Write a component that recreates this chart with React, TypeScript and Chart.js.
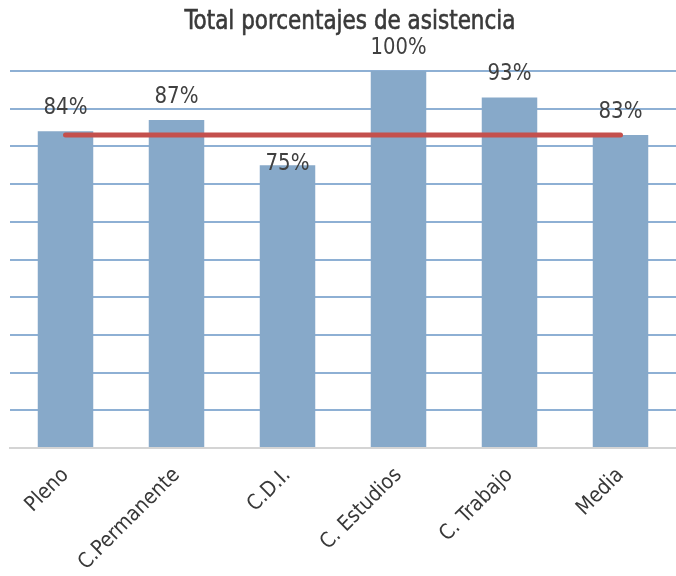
import React, { useEffect, useRef } from "react";
import { Chart, registerables } from "chart.js";

Chart.register(...registerables);

const titleText = "Total porcentajes de asistencia";
const categories = ["Pleno", "C.Permanente", "C.D.I.", "C. Estudios", "C. Trabajo", "Media"];
const attendance = [84, 87, 75, 100, 93, 83];
const mediaLine = [83, 83, 83, 83, 83, 83];
const valueLabels = ["84%", "87%", "75%", "100%", "93%", "83%"];

const FONT = "'DejaVu Sans Condensed', 'Liberation Sans Narrow', sans-serif";
const TEXT_COLOR = "#404040";

const overlayPlugin = {
  id: "overlayText",
  afterDatasetsDraw(chart: any) {
    const ctx = chart.ctx;
    const area = chart.chartArea;
    const meta = chart.getDatasetMeta(1);
    const gaps = [17, 17, -5, 17, 17, 17];
    ctx.save();
    ctx.fillStyle = TEXT_COLOR;
    ctx.textAlign = "center";
    ctx.textBaseline = "alphabetic";
    ctx.font = `23px ${FONT}`;
    meta.data.forEach((bar: any, i: number) => {
      const w = ctx.measureText(valueLabels[i]).width;
      const sx = Math.min(1, (valueLabels[i].length === 4 ? 56 : 44) / w);
      ctx.save();
      ctx.translate(bar.x, bar.y - gaps[i]);
      ctx.scale(sx, 1);
      ctx.fillText(valueLabels[i], 0, 0);
      ctx.restore();
    });
    // title
    const cx = (area.left + area.right) / 2 + 7;
    ctx.font = `26px ${FONT}`;
    ctx.fillStyle = "#3a3a3a";
    const tw = ctx.measureText(titleText).width;
    const tsx = 331 / tw;
    ctx.translate(cx, 29);
    ctx.scale(tsx, 1);
    ctx.lineWidth = 0.6;
    ctx.strokeStyle = "#3a3a3a";
    ctx.fillText(titleText, 0, 0);
    ctx.strokeText(titleText, 0, 0);
    ctx.restore();
  },
};

export default function App() {
  const ref = useRef<HTMLCanvasElement | null>(null);
  useEffect(() => {
    document.body.style.margin = "0";
    const canvas = ref.current;
    if (!canvas) return;
    const chart = new Chart(canvas, {
      type: "bar",
      data: {
        labels: categories,
        datasets: [
          {
            type: "line",
            label: "Media",
            data: mediaLine,
            borderColor: "#c4504d",
            borderWidth: 5,
            borderCapStyle: "round",
            pointRadius: 0,
            fill: false,
            order: 0,
          } as any,
          {
            type: "bar",
            label: "Asistencia",
            data: attendance,
            backgroundColor: "#87a9c9",
            borderWidth: 0,
            barPercentage: 0.5,
            categoryPercentage: 1,
            order: 1,
          },
        ],
      },
      options: {
        responsive: false,
        animation: false,
        layout: { padding: { top: 71, left: 10, right: 0, bottom: 0 } },
        plugins: {
          legend: { display: false },
          title: { display: false },
          tooltip: { enabled: false },
        },
        scales: {
          x: {
            grid: { display: false },
            border: { display: true, color: "#d4d4d4", width: 2 },
            ticks: {
              color: "#383838",
              font: { family: FONT, size: 21 },
              minRotation: 45,
              maxRotation: 45,
              padding: 7,
            },
            afterFit(scale: any) {
              scale.height = 128;
            },
          },
          y: {
            min: 0,
            max: 100,
            ticks: { display: false, stepSize: 10 },
            border: { display: false },
            grid: {
              color: (c: any) => (c.tick && c.tick.value === 0 ? "rgba(0,0,0,0)" : "#8eb0d4"),
              lineWidth: 2,
              drawTicks: false,
            },
            afterFit(scale: any) {
              scale.width = 0;
            },
          },
        },
      },
      plugins: [overlayPlugin],
    } as any);
    return () => chart.destroy();
  }, []);
  return (
    <div style={{ width: 676, height: 576 }}>
      <canvas ref={ref} width={676} height={576} />
    </div>
  );
}
